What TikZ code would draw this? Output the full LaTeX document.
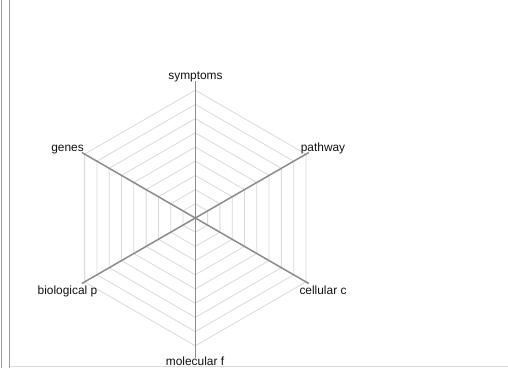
\documentclass[tikz,border=0pt]{standalone}
\usepackage{fontspec}
\setmainfont{Liberation Sans}
\usetikzlibrary{calc}
\definecolor{axisgray}{HTML}{8C8C8C}
\definecolor{gridgray}{HTML}{DADADA}
\definecolor{framegray}{HTML}{A0A0A0}
\definecolor{txt}{HTML}{111111}
\tikzset{
  axisline/.style={draw=axisgray, line width=1.5bp},
  gridline/.style={draw=gridgray, line width=0.8bp},
  framelink/.style={draw=framegray, line width=0.9bp},
  lbl/.style={anchor=base, inner sep=0pt, outer sep=0pt, text=txt, font=\fontsize{11.9bp}{14bp}\selectfont}
}
\begin{document}
\begin{tikzpicture}[x=1bp, y=-1bp]
\useasboundingbox (0,0) rectangle (508,368);
\fill[white] (0,0) rectangle (508,368);
% frame lines
\draw[framelink] (1.5,0) -- (1.5,368);
\draw[framelink] (9.3,0) -- (9.3,368);
\draw[gridline] (10,366.6) -- (508,366.6);
% center
\coordinate (c) at (195.3,218);
% grid rings
\foreach \k in {1,...,9}{
  \pgfmathsetmacro{\r}{\k*14.2}
  \draw[gridline] ($(c)+(90:\r)$) foreach \a in {30,-30,-90,-150,150} { -- ($(c)+(\a:\r)$) } -- cycle;
}
% axis end points
\coordinate (eS) at ($(c)+(0,-137)$);
\coordinate (eP) at ($(c)+(-30:131)$);
\coordinate (eC) at ($(c)+(30:131)$);
\coordinate (eM) at ($(c)+(0,140)$);
\coordinate (eB) at ($(c)+(150:131)$);
\coordinate (eG) at ($(c)+(-150:131)$);
\foreach \e in {eS,eP,eC,eM,eB,eG}{ \draw[axisline] (c) -- (\e); }
% labels
\node[lbl] (symptoms) at (195.5,79) {symptoms};
\node[lbl] (genes) at (67.5,151.7) {genes};
\node[lbl] (pathway) at (323,151.3) {pathway};
\node[lbl] (biological) at (67.5,294.3) {biological p};
\node[lbl] (cellular) at (323,294.3) {cellular c};
\node[lbl] (molecular) at (195,365.7) {molecular f};
\end{tikzpicture}
\end{document}
